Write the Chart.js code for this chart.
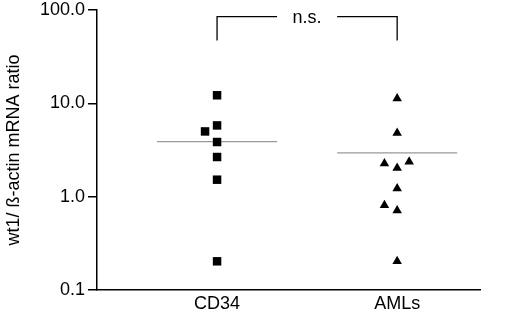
<!DOCTYPE html>
<html>
<head>
<meta charset="utf-8">
<script src="https://cdn.jsdelivr.net/npm/chart.js@4"></script>
<style>
html,body{margin:0;padding:0;background:#fff;}
canvas{display:block;}
</style>
</head>
<body>
<canvas id="c" width="520" height="312"></canvas>
<script>
// ---- data ----
const categories = ['CD34', 'AMLs'];
const categoryPos = [1, 2.5];
const cd34Values = [12.2, 5.8, 5.0, 3.85, 2.66, 1.52, 0.203];
const cd34Jitter = [0, 0, -0.1, 0, 0, 0, 0];
const amlValues = [11.3, 4.8, 2.26, 2.03, 2.37, 1.22, 0.81, 0.71, 0.203];
const amlJitter = [0, 0, -0.106, 0, 0.1, 0, -0.106, 0, 0];
const groupMeans = [3.88, 2.94];
const yTickValues = [0.1, 1, 10, 100];
const bracketLow = 47;
const bracketTop = 85;
const sigLabel = 'n.s.';
const yTitle = 'wt1/ ß-actin mRNA ratio';

const FONT = 'Liberation Sans, Arial, Helvetica, sans-serif';
const meanHalf = 0.5;
const gapHalf = 0.25;
const sigPos = (categoryPos[0] + categoryPos[1]) / 2;

const cd34Pts = cd34Values.map((v, i) => ({x: categoryPos[0] + cd34Jitter[i], y: v}));
const amlPts = amlValues.map((v, i) => ({x: categoryPos[1] + amlJitter[i], y: v}));

const meanSets = groupMeans.map((m, i) => ({
  type: 'line',
  data: [{x: categoryPos[i] - meanHalf, y: m}, {x: categoryPos[i] + meanHalf, y: m}],
  borderColor: '#9a9a9a', borderWidth: 1.2, pointRadius: 0, fill: false
}));

const bracketSets = [
  [{x: categoryPos[0], y: bracketLow}, {x: categoryPos[0], y: bracketTop}, {x: sigPos - gapHalf, y: bracketTop}],
  [{x: sigPos + gapHalf, y: bracketTop}, {x: categoryPos[1], y: bracketTop}, {x: categoryPos[1], y: bracketLow}]
].map(d => ({
  type: 'line', data: d, borderColor: '#000', borderWidth: 1.3, pointRadius: 0, fill: false, tension: 0
}));

const sigPlugin = {
  id: 'sig',
  afterDatasetsDraw(chart) {
    const {ctx, scales} = chart;
    ctx.save();
    ctx.font = '18px ' + FONT;
    ctx.fillStyle = '#000';
    ctx.textAlign = 'center';
    ctx.textBaseline = 'middle';
    ctx.fillText(sigLabel, scales.x.getPixelForValue(sigPos), scales.y.getPixelForValue(bracketTop) + 1);
    ctx.restore();
  }
};

new Chart(document.getElementById('c'), {
  type: 'scatter',
  data: {
    datasets: [
      {data: cd34Pts, pointStyle: 'rect', pointRadius: 6, pointHoverRadius: 6, backgroundColor: '#000', borderColor: '#000', borderWidth: 0},
      {data: amlPts, pointStyle: 'triangle', pointRadius: 5.5, pointHoverRadius: 5.5, backgroundColor: '#000', borderColor: '#000', borderWidth: 0},
      ...meanSets,
      ...bracketSets
    ]
  },
  options: {
    responsive: false,
    animation: false,
    events: [],
    layout: {padding: {left: 0, top: 0, right: 40, bottom: 0}},
    plugins: {legend: {display: false}, tooltip: {enabled: false}},
    scales: {
      x: {
        type: 'linear', min: 0, max: 3.19,
        afterBuildTicks(s) { s.ticks = categoryPos.map(v => ({value: v})); },
        afterFit(s) { s.height = 22; },
        grid: {display: false, drawTicks: false},
        border: {display: true, color: '#000', width: 1.5},
        ticks: {
          color: '#000', padding: 3, maxRotation: 0, autoSkip: false,
          font: {family: FONT, size: 18},
          callback: v => categories[categoryPos.indexOf(v)]
        }
      },
      y: {
        type: 'logarithmic', min: 0.1, max: 100,
        afterBuildTicks(s) { s.ticks = yTickValues.map(v => ({value: v})); },
        afterFit(s) { s.width = 97; s.paddingTop = 10; },
        grid: {display: true, drawOnChartArea: false, drawTicks: true, tickLength: 9, color: '#000', lineWidth: 1.5},
        border: {display: true, color: '#000', width: 1.5},
        ticks: {
          color: '#000', padding: 3, autoSkip: false,
          font: {family: FONT, size: 18},
          callback: v => Number(v).toFixed(1)
        },
        title: {
          display: true, text: yTitle, color: '#000',
          font: {family: FONT, size: 18}, padding: {top: 3, bottom: 0}
        }
      }
    }
  },
  plugins: [sigPlugin]
});
</script>
</body>
</html>
